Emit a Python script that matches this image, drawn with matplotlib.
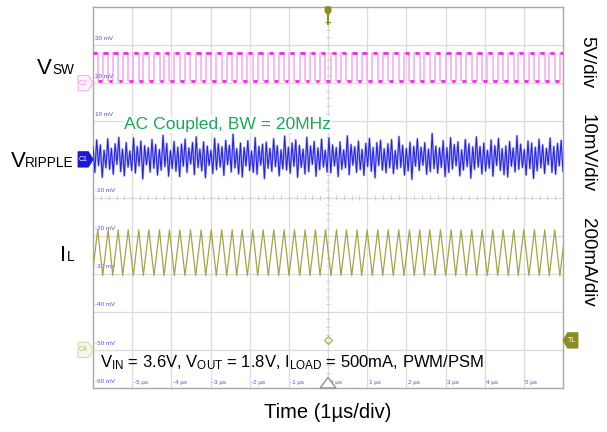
import numpy as np
import matplotlib
matplotlib.use("Agg")
import matplotlib.pyplot as plt
from matplotlib.patches import Polygon
from matplotlib.transforms import offset_copy

plt.rcParams['font.family'] = ['Liberation Sans', 'DejaVu Sans']
plt.rcParams['mathtext.default'] = 'regular'

# VSW rising edges (us), high time, levels
sw_rise_us = [-6.02, -5.752, -5.497, -5.241, -4.971, -4.715, -4.442, -4.187, -3.924,
              -3.651, -3.378, -3.122, -2.852, -2.586, -2.331, -2.060, -1.795, -1.524,
              -1.259, -0.996, -0.722, -0.460, -0.204, 0.077, 0.332, 0.605, 0.860,
              1.131, 1.397, 1.667, 1.940, 2.203, 2.459, 2.732, 3.005, 3.260, 3.531,
              3.796, 4.067, 4.333, 4.603, 4.858, 5.131, 5.394, 5.650, 5.920]
sw_high_us = 0.14
sw_high_v = 3.9
sw_low_v = 0.3

# inductor current peak / valley (mA)
il_peak_ma = 630
il_valley_ma = 390

# output ripple (mV), AC coupled
ripple_mv = [
    2.8, -3.9, 4.6, -2.1, 3.3, -5.2, 1.9, -2.7, 4.9, -3.1, 2.4, -4.4, 3.6, -1.8, 5.3, -3.7,
    2.2, -4.8, 3.9, -2.5, 1.7, -3.4, 5.1, -4.1, 2.9, -2.2, 4.3, -5.6, 3.1, -1.9, 2.6, -3.8,
    4.7, -2.8, 3.4, -4.6, 2.1, -3.3, 5.8, -2.4, 3.7, -4.9, 1.8, -2.9, 4.2, -3.6, 2.7, -5.0,
    3.5, -2.3, 4.8, -3.9, 2.5, -1.7, 3.9, -4.5, 5.4, -2.6, 2.2, -3.5, 4.1, -5.3, 3.0, -2.1,
    1.9, -4.2, 5.0, -3.2, 3.6, -2.5, 2.8, -4.7, 4.5, -1.9, 3.2, -3.8, 6.1, -2.7, 2.3, -4.3,
    3.8, -5.1, 2.6, -2.2, 4.4, -3.4, 1.7, -3.9, 5.2, -4.4, 2.9, -2.0, 3.5, -5.5, 4.0, -2.8,
    2.4, -3.6, 4.9, -2.4, 3.1, -4.8, 2.0, -3.0, 5.6, -3.3, 2.7, -4.1, 3.8, -2.3, 4.6, -5.2,
    3.2, -2.6, 2.2, -4.3, 5.3, -3.7, 3.0, -1.8, 4.2, -4.9, 2.5, -3.2, 4.8, -2.5, 1.9, -3.8,
    5.1, -4.0, 3.3, -2.2, 2.6, -5.0, 4.1, -3.1, 2.0, -2.7, 5.7, -4.5, 3.4, -2.0, 2.8, -3.9,
    4.3, -3.2, 2.1, -4.7, 3.7, -2.4, 5.0, -3.6, 2.6, -5.3, 3.9, -2.1, 4.5, -3.3, 2.3, -4.0,
    3.6, -2.7, 4.7, -4.2, 1.8, -3.0, 5.5, -2.6, 3.2, -4.6, 2.4, -3.5, 4.0, -5.7, 2.9, -2.3,
    4.9, -3.4, 2.7, -2.0, 3.9, -4.4, 2.2, -3.7, 6.3, -2.9, 3.0, -4.1, 2.5, -2.6, 4.4, -5.0,
    2.6, -3.9, 5.2, -3.0, 3.4, -2.2, 4.1, -4.8, 2.0, -3.3, 4.7, -2.4, 3.6, -5.4, 2.8, -3.1,
    5.4, -2.5, 2.9, -4.3, 3.8, -3.6, 1.9, -2.8, 4.6, -4.9, 3.1, -2.1, 5.0, -3.4, 2.3, -4.5,
    3.0, -5.1, 4.2, -2.3, 2.5, -3.8, 5.7, -3.1, 3.5, -2.6, 2.1, -4.6, 4.3, -2.9, 3.8, -5.5,
    2.7, -3.5, 4.8, -2.7, 3.3, -4.2, 2.4, -1.9, 5.1, -3.9, 2.9, -4.4, 3.7, -2.2, 4.5, -3.6,
]
ripple_offset_mv = 0.5

time_labels = ['-5 \u00b5s', '-4 \u00b5s', '-3 \u00b5s', '-2 \u00b5s', '-1 \u00b5s', '0 \u00b5s',
               '1 \u00b5s', '2 \u00b5s', '3 \u00b5s', '4 \u00b5s', '5 \u00b5s']
volt_labels = ['30 mV', '20 mV', '10 mV', '', '-10 mV', '-20 mV', '-30 mV', '-40 mV',
               '-50 mV', '-60 mV']

# channel position (div) and scale per div
ch2_pos, ch2_scale = 3.0, 5.0      # VSW, V/div
ch1_pos, ch1_scale = 1.0, 10.0     # ripple, mV/div
ch4_pos, ch4_scale = -4.0, 200.0   # IL, mA/div

W, H = 607, 432
fig = plt.figure(figsize=(W / 100, H / 100), dpi=100)
L, R, T, B = 93, 563, 7, 388
ax = fig.add_axes([L / W, 1 - B / H, (R - L) / W, (B - T) / H])
ax.set_xlim(-6, 6)
ax.set_ylim(-5, 5)
ax.set_xticks([])
ax.set_yticks([])
for s in ax.spines.values():
    s.set_color('#a8a8a8')
    s.set_linewidth(1.0)

# graticule
for gx in range(-5, 6):
    ax.axvline(gx, color='#dcdcdc', lw=0.9, zorder=0)
for gy in range(-4, 5):
    ax.axhline(gy, color='#dcdcdc', lw=0.9, zorder=0)
minor_y = np.arange(-5, 5.01, 0.2)
minor_x = np.arange(-6, 6.01, 0.2)
ax.hlines(minor_y, -0.06, 0.06, color='#d0d0d0', lw=0.7, zorder=0)
ax.vlines(minor_x, -0.06, 0.06, color='#d0d0d0', lw=0.7, zorder=0)

# small scope labels
for i, lab in enumerate(time_labels):
    ax.text(-5 + i + 0.04, -4.86, lab, fontsize=4.5, color='#5050f0', va='center', zorder=3)
for i, lab in enumerate(volt_labels):
    ax.text(-5.95, 4 - i + 0.18, lab, fontsize=4.5, color='#5050f0', va='center', zorder=3)

# ---- VSW ----
rise = np.array(sw_rise_us)
fall = rise + sw_high_us
hi = ch2_pos + sw_high_v / ch2_scale
lo = ch2_pos + sw_low_v / ch2_scale
tx = np.column_stack([rise, rise, fall, fall]).ravel()
ty = np.tile([lo, hi, hi, lo], len(rise))
ax.plot(tx, ty, color='#f7a8f0', lw=1.1, zorder=2)
ax.hlines(np.full(len(rise), hi), rise + 0.015, fall - 0.015, color='#ee2ee0', lw=2.0, zorder=3)
ax.hlines(np.full(len(rise) - 1, lo), fall[:-1] + 0.015, rise[1:] - 0.015,
          color='#ee2ee0', lw=2.0, zorder=3)

# ---- ripple ----
r = np.array(ripple_mv) + ripple_offset_mv
rt = np.linspace(-6, 6, len(r))
ry = ch1_pos + r / ch1_scale
ax.plot(rt, ry, color='#a8a8f8', lw=1.6, zorder=2)
ax.plot(rt, ry, color='#2020e0', lw=0.7, zorder=3)

# ---- IL ----
it = np.column_stack([rise, fall]).ravel()
iy = np.tile([ch4_pos + il_valley_ma / ch4_scale, ch4_pos + il_peak_ma / ch4_scale], len(rise))
ax.plot(it, iy, color='#a4a44a', lw=0.9, zorder=3)

# trigger / marker glyphs
ax.plot(0, -3.75, 'D', ms=4, mfc='none', mec='#a8a850', mew=0.8, zorder=4)
ax.add_patch(Polygon([[-0.2, -5.0], [0.2, -5.0], [0.0, -4.72]], closed=True,
                     fc='white', ec='#909090', lw=1.0, zorder=5, clip_on=False))
ax.add_patch(Polygon([[-0.07, 5.0], [0.07, 5.0], [0.07, 4.88], [0.0, 4.8], [-0.07, 4.88]],
                     closed=True, fc='#8c8c20', ec='#8c8c20', zorder=5, clip_on=False))
ax.plot([0, 0], [4.8, 4.55], color='#8c8c20', lw=1.4, zorder=5)
ax.plot([-0.05, 0.05], [4.6, 4.6], color='#8c8c20', lw=1.0, zorder=5)


def ch_marker(y, txt, fc, ec, tc, side='left'):
    if side == 'left':
        pts = [[-6.38, y - 0.2], [-6.12, y - 0.2], [-6.0, y], [-6.12, y + 0.2], [-6.38, y + 0.2]]
        tx0 = -6.26
    else:
        pts = [[6.38, y - 0.2], [6.12, y - 0.2], [6.0, y], [6.12, y + 0.2], [6.38, y + 0.2]]
        tx0 = 6.24
    ax.add_patch(Polygon(pts, closed=True, fc=fc, ec=ec, lw=0.8, zorder=5, clip_on=False))
    ax.text(tx0, y, txt, fontsize=5, color=tc, ha='center', va='center', zorder=6,
            clip_on=False)


ch_marker(ch2_pos, 'C2', '#fff4fe', '#f4b0ee', '#f090e8')
ch_marker(ch1_pos, 'C1', '#1818d8', '#1818d8', 'white')
ch_marker(ch4_pos, 'C4', '#f8f8e6', '#d8d8a8', '#b8b880')
ch_marker(-3.75, 'TL', '#8c8c20', '#8c8c20', 'white', side='right')

# annotations inside the screen
ax.text(-5.2, 1.8, 'AC Coupled, BW = 20MHz', fontsize=12.6, color='#1aa85a',
        va='baseline', zorder=6, bbox=dict(fc='white', ec='none', pad=0.5))
ax.text(-5.82, -4.45, 'V$_{IN}$ = 3.6V, V$_{OUT}$ = 1.8V, I$_{LOAD}$ = 500mA, PWM/PSM',
        fontsize=12, color='black', va='baseline', zorder=6)


def fx(px):
    return px / W


def fy(py):
    return 1 - py / H


# channel names: big letter + smaller subscript, right edge at x=74 px
renderer = fig.canvas.get_renderer()
for main, sub, base in [('V', 'SW', 74), ('V', 'RIPPLE', 167), ('I', 'L', 261)]:
    st = fig.text(fx(74), fy(base), sub, fontsize=9.8, ha='right', va='baseline')
    sw = st.get_window_extent(renderer).width
    fig.text(fx(74 - sw), fy(base), main, fontsize=16, ha='right', va='baseline')

fig.text(fx(587), fy(62), '5V/div', fontsize=13.5, rotation=-90, ha='center', va='center')
fig.text(fx(587), fy(153), '10mV/div', fontsize=13.5, rotation=-90, ha='center', va='center')
fig.text(fx(587), fy(262), '200mA/div', fontsize=13.5, rotation=-90, ha='center', va='center')

fig.text(fx(328), fy(413), 'Time (1\u00b5s/div)', fontsize=14.5, ha='center', va='center')

fig.savefig('out.png', dpi=100)
